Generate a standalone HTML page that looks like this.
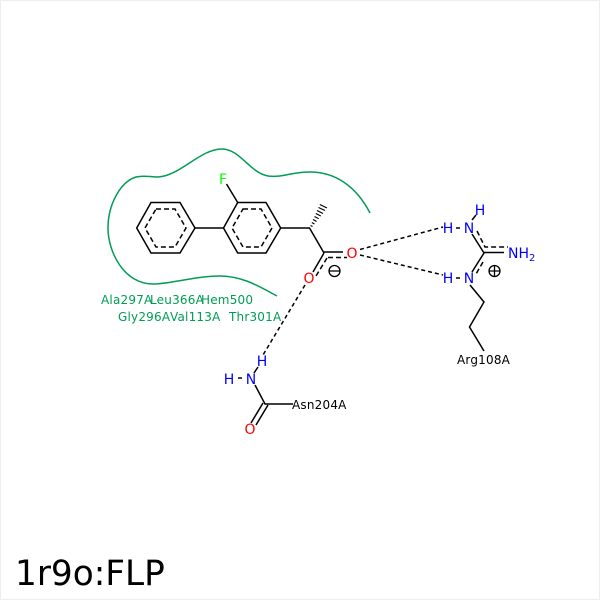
<!DOCTYPE html>
<html><head><meta charset="utf-8"><style>
html,body{margin:0;padding:0;background:#fff}
svg{display:block}
text{font-family:"DejaVu Sans",sans-serif}
</style></head><body>
<svg width="600" height="600" viewBox="0 0 600 600" xmlns="http://www.w3.org/2000/svg">
<rect x="0.5" y="0.5" width="599" height="599" fill="#fff" stroke="#eee"/>
<path d="M370 213C356 186 335 172 310 172C290 172 282 178 268 176C250 173 240 149 222 149C200 149 180 176 158 177C150 177 144 175 136 177C120 182 108 205 108 228C108 252 124 284 153 284C170 284 195 276 220 276C243 276 260 287 277 296" fill="none" stroke="#009d55" stroke-width="1.5"/>
<g fill="none" stroke="#000" stroke-width="1.5">
<path d="M151 202.500H180L195 228L180 253H151L136.700 228Z"/>
<path d="M195 228H223.500"/>
<path d="M223.500 228L237.700 202.500H266L280.700 228L266 253H237.700Z"/>
<path d="M237.700 202.500L226.500 184"/>
<path d="M280.700 228H309.500L324 253"/>
<path d="M324 252H343"/>
<path d="M324 253L313 272"/>
<path d="M484 253L472 234M472 272L484 253M484 252.500H504"/>
<path d="M472 220L476 215"/>
<path d="M470 285L484 302L469.500 327L484 351"/>
<path d="M254 373L258 367M255 385L265 404H293M263 403L251 423M268 405L256 425"/>
</g>
<g fill="none" stroke="#000" stroke-width="1.5" stroke-dasharray="5 3">
<path d="M156 209H175L186 228L175 247H156L145 228Z"/>
<path d="M243 209H261L272 228L261 247H243L232 228Z"/>
<path d="M328 257.500H347M327 258L316 276"/>
<path d="M477 231L485 247H508M483 262L476 274"/>
</g>
<g fill="none" stroke="#000" stroke-width="1.5" stroke-dasharray="4 3">
<path d="M360 249.500L443 227M360 255L443 275"/>
<path d="M305 285L263 355"/>
<path d="M456 228H462M456 278H462M238 378H243"/>
</g>
<g stroke="#000" stroke-width="1.1">
<path d="M310.500 225.500L312.500 226.500M311.800 222.500L314.500 224M313 219.500L316.500 221.500M314.500 216.500L318.700 218.700M315.800 213.500L320.800 216M317 210.500L323 213.500M318.500 207.500L325 210.500M319.800 204.500L327 208"/>
</g>
<g fill="none" stroke="#000" stroke-width="1.3">
<circle cx="334.500" cy="271" r="5.500"/><path d="M329 271H340"/>
<circle cx="494.500" cy="271" r="5.500"/><path d="M489 271H500M494.500 265.500V276.500"/>
</g>
<g font-size="14" text-anchor="middle">
<text x="223" y="184" fill="#00ff00">F</text>
<text x="352" y="258" fill="#ff0000">O</text>
<text x="309" y="283" fill="#ff0000">O</text>
<text x="250" y="434" fill="#ff0000">O</text>
<g fill="#0000ff">
<text x="448" y="233">H</text><text x="469" y="233">N</text><text x="480" y="215">H</text>
<text x="448" y="283">H</text><text x="469" y="283">N</text>
<text x="262" y="366">H</text><text x="251" y="384">N</text><text x="229" y="384">H</text>
<text x="508" y="258" text-anchor="start">NH<tspan font-size="10" dy="3">2</tspan></text>
</g>
</g>
<g font-size="12" fill="#000" letter-spacing="0.2">
<text x="457" y="364">Arg108A</text>
<text x="292" y="409">Asn204A</text>
</g>
<g font-size="12" fill="#009d55" letter-spacing="0.2">
<text x="101" y="304">Ala297A</text>
<text x="150" y="304">Leu366A</text>
<text x="201" y="304">Hem500</text>
<text x="118" y="321">Gly296A</text>
<text x="170" y="321">Val113A</text>
<text x="229" y="321">Thr301A</text>
</g>
<text x="15" y="585" font-size="34.300" fill="#000">1r9o:FLP</text>
</svg>
</body></html>
